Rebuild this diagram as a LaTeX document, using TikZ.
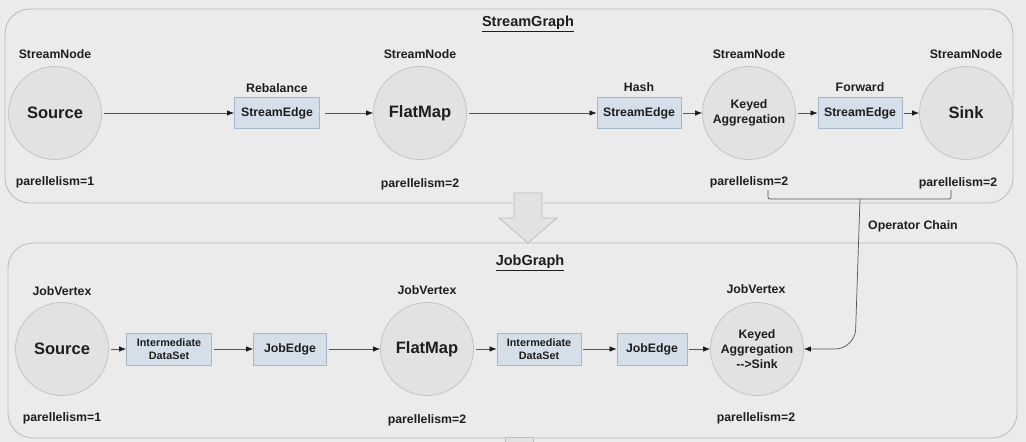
\documentclass[tikz,border=0pt]{standalone}
\usepackage{fontspec}
\setmainfont{Liberation Sans}
\usetikzlibrary{arrows.meta,calc}
\definecolor{bg}{HTML}{EBEBEB}
\definecolor{framec}{HTML}{BDBDBD}
\definecolor{circf}{HTML}{E2E2E2}
\definecolor{circd}{HTML}{C4C4C4}
\definecolor{boxf}{HTML}{D5DFEA}
\definecolor{boxd}{HTML}{A9B8C8}
\definecolor{txt}{HTML}{1E1E1E}
\definecolor{linec}{HTML}{555555}
\definecolor{tipc}{HTML}{1A1A1A}
\tikzset{
  frame/.style={draw=framec, line width=0.9pt, rounded corners=25pt, fill=bg},
  opnode/.style={circle, minimum size=93pt, inner sep=0pt, fill=circf, draw=circd, line width=0.8pt,
     text=txt, font=\bfseries\fontsize{16.5}{19}\selectfont, align=center},
  opsmall/.style={opnode, font=\bfseries\fontsize{12.3}{15}\selectfont},
  edgebox/.style={rectangle, minimum height=31pt, inner sep=0pt, fill=boxf, draw=boxd, line width=0.8pt,
     text=txt, font=\bfseries\fontsize{12.3}{14}\selectfont, align=center},
  dsbox/.style={edgebox, font=\bfseries\fontsize{10.8}{13}\selectfont},
  lbl/.style={text=txt, font=\bfseries\fontsize{12.3}{14}\selectfont, inner sep=0pt},
  title/.style={text=txt, font=\bfseries\fontsize{14.5}{17}\selectfont, inner sep=0pt},
  arr/.style={draw=linec, line width=0.7pt, -{Latex[length=7pt,width=5.5pt,color=tipc]}, shorten <=2pt},
  bracket/.style={draw=linec, line width=0.7pt},
  bigarrow/.style={fill=circf, draw=framec, line width=0.8pt},
}
\begin{document}
\begin{tikzpicture}[x=1pt,y=-1pt]
\useasboundingbox (0,0) rectangle (1026,442);
\fill[bg] (0,0) rectangle (1026,442);
% frames
\draw[frame] (5,9) rectangle (1013,203);
\draw[frame] (8,243) rectangle (1017,438);
\node[title] (t1) at (528,24) {\underline{StreamGraph}};
\node[title] (t2) at (530,263) {\underline{JobGraph}};
% big arrow between graphs
\draw[bigarrow] (514,193) -- (542,193) -- (542,218) -- (557,218) -- (528,243) -- (499,218) -- (514,218) -- cycle;
\draw[bigarrow] (505,445) -- (505,437) -- (533,437) -- (533,445);
% ---------- StreamGraph ----------
\node[opnode] (s1) at (55,113) {Source};
\node[opnode] (s2) at (420,113) {FlatMap};
\node[opsmall] (s3) at (749,113) {Keyed\\Aggregation};
\node[opnode] (s4) at (966,113) {Sink};
\node[edgebox, minimum width=85pt] (e1) at (277,113) {StreamEdge};
\node[edgebox, minimum width=84pt] (e2) at (639,113) {StreamEdge};
\node[edgebox, minimum width=84pt] (e3) at (860,113) {StreamEdge};
\node[lbl] (n1) at (55,54) {StreamNode};
\node[lbl] (n2) at (420,54) {StreamNode};
\node[lbl] (n3) at (749,54) {StreamNode};
\node[lbl] (n4) at (966,54) {StreamNode};
\node[lbl] (l1) at (277,88) {Rebalance};
\node[lbl] (l2) at (639,87) {Hash};
\node[lbl] (l3) at (860,87) {Forward};
\node[lbl] (p1) at (55,182) {parellelism=1};
\node[lbl] (p2) at (420,184) {parellelism=2};
\node[lbl] (p3) at (749,182) {parellelism=2};
\node[lbl] (p4) at (958,183) {parellelism=2};
\draw[arr] (s1) -- (e1);
\draw[arr, shorten <=5pt] (e1) -- (s2);
\draw[arr] (s2) -- (e2);
\draw[arr] (e2) -- (s3);
\draw[arr] (s3) -- (e3);
\draw[arr] (e3) -- (s4);
% ---------- JobGraph ----------
\node[opnode] (j1) at (62,349) {Source};
\node[opnode] (j2) at (427,349) {FlatMap};
\node[opsmall] (j3) at (757,349) {Keyed\\Aggregation\\-{}->Sink};
\node[dsbox, minimum width=85pt, minimum height=32pt] (d1) at (169,349) {Intermediate\\DataSet};
\node[edgebox, minimum width=73pt, minimum height=32pt] (je1) at (290,349) {JobEdge};
\node[dsbox, minimum width=84pt, minimum height=32pt] (d2) at (539,349) {Intermediate\\DataSet};
\node[edgebox, minimum width=70pt, minimum height=32pt] (je2) at (652,349) {JobEdge};
\node[lbl] (v1) at (62,291) {JobVertex};
\node[lbl] (v2) at (427,290) {JobVertex};
\node[lbl] (v3) at (756,289) {JobVertex};
\node[lbl] (q1) at (62,418) {parellelism=1};
\node[lbl] (q2) at (427,420) {parellelism=2};
\node[lbl] (q3) at (756,418) {parellelism=2};
\draw[arr] (j1) -- (d1);
\draw[arr] (d1) -- (je1);
\draw[arr] (je1) -- (j2);
\draw[arr] (j2) -- (d2);
\draw[arr] (d2) -- (je2);
\draw[arr] (je2) -- (j3);
% ---------- Operator chain ----------
\coordinate (ba) at (768,190);
\coordinate (bb) at (951,190);
\coordinate (bm) at (860,199);
\draw[bracket, rounded corners=2pt] (ba) -- (768,199) -- (951,199) -- (bb);
\draw[arr, shorten <=0pt, rounded corners=20pt] (bm) -- (855,349) -- (j3.east);
\node[lbl, anchor=west] (oc) at (868,226) {Operator Chain};
\end{tikzpicture}
\end{document}
